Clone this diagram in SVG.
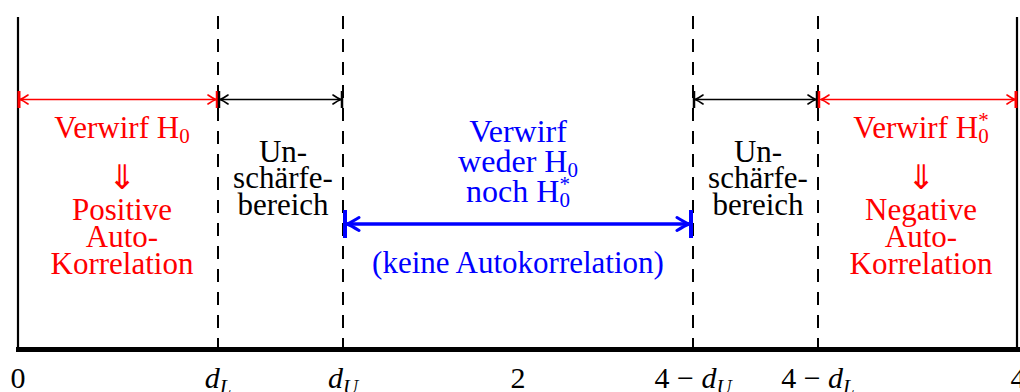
<svg xmlns="http://www.w3.org/2000/svg" width="1020" height="392" viewBox="0 0 1020 392">
<defs>
<marker id="hr" viewBox="-12 -8 14 16" refX="0" refY="0" markerWidth="14" markerHeight="16" markerUnits="userSpaceOnUse" orient="auto-start-reverse">
<path d="M-8,-4.5 Q-3,-1 0,0 Q-3,1 -8,4.5" fill="none" stroke="#ff0000" stroke-width="1.6" stroke-linecap="round"/>
</marker>
<marker id="hk" viewBox="-12 -8 14 16" refX="0" refY="0" markerWidth="14" markerHeight="16" markerUnits="userSpaceOnUse" orient="auto-start-reverse">
<path d="M-8,-4.5 Q-3,-1 0,0 Q-3,1 -8,4.5" fill="none" stroke="#000" stroke-width="1.6" stroke-linecap="round"/>
</marker>
<marker id="hb" viewBox="-16 -10 18 20" refX="0" refY="0" markerWidth="18" markerHeight="20" markerUnits="userSpaceOnUse" orient="auto-start-reverse">
<path d="M-12,-6.5 Q-4,-1.5 0,0 Q-4,1.5 -12,6.5" fill="none" stroke="#0000ff" stroke-width="3" stroke-linecap="round"/>
</marker>
</defs>
<rect width="1020" height="392" fill="#fff"/>
<g id="frame">
<line x1="18" y1="17" x2="18" y2="349" stroke="#000" stroke-width="2.2"/>
<line x1="1017" y1="17" x2="1017" y2="349" stroke="#000" stroke-width="2.2"/>
<g stroke="#000" stroke-width="2" stroke-dasharray="13 10">
<line x1="218" y1="16" x2="218" y2="348"/>
<line x1="343" y1="16" x2="343" y2="348"/>
<line x1="693" y1="16" x2="693" y2="348"/>
<line x1="818" y1="16" x2="818" y2="348"/>
</g>
<line x1="16" y1="349.5" x2="1020" y2="349.5" stroke="#000" stroke-width="5"/>
</g>
<g id="connectors">
<line x1="20" y1="99.5" x2="216" y2="99.5" stroke="#ff0000" stroke-width="1.6" marker-start="url(#hr)" marker-end="url(#hr)"/>
<line x1="19" y1="91" x2="19" y2="108" stroke="#ff0000" stroke-width="3"/>
<line x1="217" y1="91" x2="217" y2="108" stroke="#ff0000" stroke-width="2.5"/>
<line x1="220" y1="99.5" x2="341" y2="99.5" stroke="#000" stroke-width="1.6" marker-start="url(#hk)" marker-end="url(#hk)"/>
<line x1="219" y1="91" x2="219" y2="108" stroke="#000" stroke-width="2.5"/>
<line x1="342" y1="91" x2="342" y2="108" stroke="#000" stroke-width="2.5"/>
<line x1="695" y1="99.5" x2="816" y2="99.5" stroke="#000" stroke-width="1.6" marker-start="url(#hk)" marker-end="url(#hk)"/>
<line x1="694" y1="91" x2="694" y2="108" stroke="#000" stroke-width="2.5"/>
<line x1="817" y1="91" x2="817" y2="108" stroke="#000" stroke-width="2.5"/>
<line x1="821" y1="99.5" x2="1015" y2="99.5" stroke="#ff0000" stroke-width="1.6" marker-start="url(#hr)" marker-end="url(#hr)"/>
<line x1="819" y1="91" x2="819" y2="108" stroke="#ff0000" stroke-width="2.5"/>
<line x1="1016" y1="91" x2="1016" y2="108" stroke="#ff0000" stroke-width="3"/>
<line x1="347" y1="224" x2="689" y2="224" stroke="#0000ff" stroke-width="3.5" marker-start="url(#hb)" marker-end="url(#hb)"/>
<line x1="345" y1="210" x2="345" y2="238" stroke="#0000ff" stroke-width="4"/>
<line x1="691" y1="210" x2="691" y2="238" stroke="#0000ff" stroke-width="4"/>
</g>
<g id="reject-h0">
<text x="122" y="138" style="font-family:'Liberation Serif';font-size:31px" text-anchor="middle" fill="#ff0000">Verwirf H<tspan style="font-size:21px" dy="5">0</tspan></text>
<text x="122" y="189" style="font-family:'DejaVu Sans';font-size:34px" text-anchor="middle" fill="#ff0000">⇓</text>
<text x="122" y="220" style="font-family:'Liberation Serif';font-size:31px" text-anchor="middle" fill="#ff0000">Positive</text>
<text x="122" y="247" style="font-family:'Liberation Serif';font-size:31px" text-anchor="middle" fill="#ff0000">Auto-</text>
<text x="122" y="274" style="font-family:'Liberation Serif';font-size:31px" text-anchor="middle" fill="#ff0000">Korrelation</text>
</g>
<g id="unsharp-left">
<text x="283" y="162" style="font-family:'Liberation Serif';font-size:31px" text-anchor="middle" fill="#000">Un-</text>
<text x="283" y="188" style="font-family:'Liberation Serif';font-size:31px" text-anchor="middle" fill="#000">schärfe-</text>
<text x="283" y="215" style="font-family:'Liberation Serif';font-size:31px" text-anchor="middle" fill="#000">bereich</text>
</g>
<g id="no-reject">
<text x="518" y="142" style="font-family:'Liberation Serif';font-size:32px" text-anchor="middle" fill="#0000ff">Verwirf</text>
<text x="518" y="172" style="font-family:'Liberation Serif';font-size:32px" text-anchor="middle" fill="#0000ff">weder H<tspan style="font-size:21px" dy="5">0</tspan></text>
<text x="518" y="202" style="font-family:'Liberation Serif';font-size:32px" text-anchor="middle" fill="#0000ff">noch H<tspan style="font-size:21px" dy="5">0</tspan><tspan style="font-size:21px" dx="-10.5" dy="-16">*</tspan></text>
<text x="518" y="273" style="font-family:'Liberation Serif';font-size:31px" text-anchor="middle" fill="#0000ff">(keine Autokorrelation)</text>
</g>
<g id="unsharp-right">
<text x="758" y="162" style="font-family:'Liberation Serif';font-size:31px" text-anchor="middle" fill="#000">Un-</text>
<text x="758" y="188" style="font-family:'Liberation Serif';font-size:31px" text-anchor="middle" fill="#000">schärfe-</text>
<text x="758" y="215" style="font-family:'Liberation Serif';font-size:31px" text-anchor="middle" fill="#000">bereich</text>
</g>
<g id="reject-h0star">
<text x="921" y="138" style="font-family:'Liberation Serif';font-size:31px" text-anchor="middle" fill="#ff0000">Verwirf H<tspan style="font-size:21px" dy="5">0</tspan><tspan style="font-size:21px" dx="-10.5" dy="-16">*</tspan></text>
<text x="921" y="189" style="font-family:'DejaVu Sans';font-size:34px" text-anchor="middle" fill="#ff0000">⇓</text>
<text x="921" y="220" style="font-family:'Liberation Serif';font-size:31px" text-anchor="middle" fill="#ff0000">Negative</text>
<text x="921" y="247" style="font-family:'Liberation Serif';font-size:31px" text-anchor="middle" fill="#ff0000">Auto-</text>
<text x="921" y="274" style="font-family:'Liberation Serif';font-size:31px" text-anchor="middle" fill="#ff0000">Korrelation</text>
</g>
<g id="axis-labels">
<text x="18" y="388" style="font-family:'Liberation Serif';font-size:30px" text-anchor="middle" fill="#000">0</text>
<text x="218" y="388" style="font-family:'Liberation Serif';font-size:30px" text-anchor="middle" fill="#000"><tspan font-style="italic">d</tspan><tspan style="font-size:21px" font-style="italic" dy="6">L</tspan></text>
<text x="343" y="388" style="font-family:'Liberation Serif';font-size:30px" text-anchor="middle" fill="#000"><tspan font-style="italic">d</tspan><tspan style="font-size:21px" font-style="italic" dy="6">U</tspan></text>
<text x="518" y="388" style="font-family:'Liberation Serif';font-size:30px" text-anchor="middle" fill="#000">2</text>
<text x="693" y="388" style="font-family:'Liberation Serif';font-size:30px" text-anchor="middle" fill="#000">4 − <tspan font-style="italic">d</tspan><tspan style="font-size:21px" font-style="italic" dy="6">U</tspan></text>
<text x="818" y="388" style="font-family:'Liberation Serif';font-size:30px" text-anchor="middle" fill="#000">4 − <tspan font-style="italic">d</tspan><tspan style="font-size:21px" font-style="italic" dy="6">L</tspan></text>
<text x="1018" y="388" style="font-family:'Liberation Serif';font-size:30px" text-anchor="middle" fill="#000">4</text>
</g>
</svg>
